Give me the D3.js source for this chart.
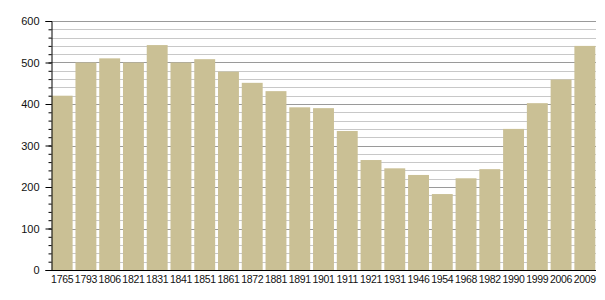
<!DOCTYPE html>
<html>
<head>
<meta charset="utf-8">
<script src="https://cdn.jsdelivr.net/npm/d3@7"></script>
<style>
  body { margin: 0; background: #fff; }
  text { font-family: "Liberation Sans", Arial, sans-serif; }
</style>
</head>
<body>
<div id="chart-area"></div>
<script>
// population by census year
const years = ["1765", "1793", "1806", "1821", "1831", "1841", "1851", "1861", "1872", "1881", "1891", "1901",
    "1911", "1921", "1931", "1946", "1954", "1968", "1982", "1990", "1999", "2006", "2009"];
const population = [420, 500, 510, 500, 542, 500, 508, 478, 451, 431, 392, 390,
    335, 265, 245, 229, 183, 221, 243, 340, 402, 459, 540];
const yTicks = [0, 100, 200, 300, 400, 500, 600];

const width = 605, height = 300;
const margin = { left: 51, right: 9, top: 21, bottom: 30 };

let svg = d3.select("#chart-area").append("svg")
    .attr("width", width)
    .attr("height", height);

const x = d3.scaleBand()
    .domain(years)
    .range([margin.left, width - margin.right])
    .paddingInner(0.12)
    .paddingOuter(0.03);

const y = d3.scaleLinear()
    .domain([0, 600])
    .range([height - margin.bottom, margin.top]);

// grid lines, minor every 20, major every 100
const minor = d3.range(20, 601, 20);
svg.append("g")
    .selectAll("line")
    .data(minor)
    .enter()
    .append("line")
    .attr("x1", margin.left)
    .attr("x2", width - margin.right)
    .attr("y1", d => Math.round(y(d)) + 0.5)
    .attr("y2", d => Math.round(y(d)) + 0.5)
    .attr("stroke", d => d % 100 === 0 ? "#9a9a9a" : "#c8c8c8")
    .attr("stroke-width", 1);

// bars
svg.append("g")
    .selectAll("rect")
    .data(population)
    .enter()
    .append("rect")
    .attr("x", (d, i) => x(years[i]))
    .attr("y", d => y(d))
    .attr("width", x.bandwidth())
    .attr("height", d => y(0) - y(d))
    .attr("fill", "#cac095");

// y axis, minor ticks
svg.append("g")
    .attr("transform", "translate(" + (margin.left + 0.5) + ",0)")
    .call(d3.axisLeft(y).tickValues(minor.concat([0])).tickSize(3).tickFormat(""))
    .call(g => g.select(".domain").remove())
    .call(g => g.selectAll(".tick line").attr("stroke", "#000"));

svg.append("g")
    .attr("transform", "translate(" + (margin.left + 0.5) + ",0)")
    .call(d3.axisLeft(y).tickValues(yTicks).tickSize(6).tickPadding(6))
    .call(g => g.selectAll("text").attr("font-size", 11).attr("fill", "#111").attr("font-family", "Liberation Sans, Arial, sans-serif"))
    .call(g => g.selectAll("line").attr("stroke", "#000"))
    .call(g => g.select(".domain").attr("stroke", "#000"));

// x axis
svg.append("g")
    .attr("transform", "translate(0," + (y(0) + 0.5) + ")")
    .call(d3.axisBottom(x).tickSize(0).tickPadding(5).tickSizeOuter(0))
    .call(g => g.select(".domain").attr("stroke", "#000").attr("d", "M" + margin.left + ",0H" + (width - margin.right)))
    .call(g => g.selectAll("text").attr("font-size", 10.5).attr("letter-spacing", "-0.3").attr("fill", "#111").attr("font-family", "Liberation Sans, Arial, sans-serif"));
</script>
</body>
</html>
